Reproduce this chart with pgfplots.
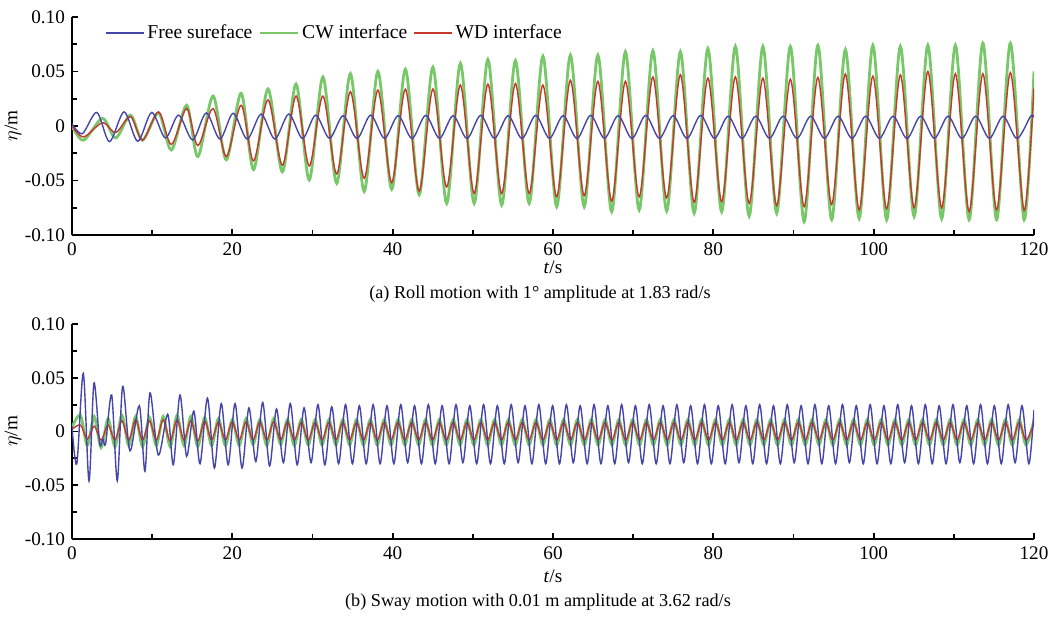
\documentclass[border=0pt]{standalone}
\usepackage{fontspec}
\setmainfont{Liberation Serif}
\usepackage{pgfplots}
\pgfplotsset{compat=1.18}
\usepackage{pgfplotstable}

\definecolor{fsblue}{RGB}{70,70,170}
\definecolor{cwgreen}{RGB}{120,200,105}
\definecolor{wdred}{RGB}{200,55,45}

% (a) roll: CW and WD interfaces share peak/trough times
\pgfplotstableread{
t g r
0.00 0.000 0.000
1.45 -0.013 -0.010
3.80 0.007 0.003
5.45 -0.011 -0.006
7.30 0.010 0.0086
8.80 -0.013 -0.013
10.80 0.012 0.013
12.40 -0.022 -0.017
14.30 0.019 0.016
15.70 -0.028 -0.018
17.60 0.0275 0.016
19.25 -0.031 -0.028
21.10 0.030 0.019
22.65 -0.040 -0.032
24.45 0.034 0.024
26.25 -0.042 -0.036
27.95 0.0385 0.0275
29.60 -0.0495 -0.0367
31.30 0.045 0.0275
33.02 -0.0526 -0.044
34.73 0.048 0.0315
36.45 -0.060 -0.048
38.16 0.050 0.033
39.88 -0.058 -0.052
41.59 0.052 0.0337
43.31 -0.063 -0.060
45.02 0.054 0.034
46.74 -0.071 -0.056
48.45 0.0575 0.0376
50.17 -0.071 -0.062
51.88 0.061 0.0385
53.60 -0.0725 -0.062
55.31 0.060 0.039
57.03 -0.071 -0.062
58.74 0.064 0.0376
60.46 -0.074 -0.065
62.17 0.065 0.042
63.89 -0.074 -0.064
65.60 0.065 0.041
67.32 -0.0786 -0.069
69.03 0.068 0.041
70.75 -0.077 -0.065
72.46 0.069 0.045
74.18 -0.078 -0.066
75.89 0.068 0.047
77.61 -0.080 -0.070
79.32 0.071 0.044
81.04 -0.0786 -0.0694
82.75 0.073 0.045
84.47 -0.0826 -0.071
86.18 0.073 0.044
87.90 -0.080 -0.073
89.61 0.073 0.043
91.33 -0.0878 -0.074
93.04 0.074 0.0446
94.76 -0.086 -0.072
96.47 0.070 0.0477
98.19 -0.0847 -0.077
99.90 0.074 0.0458
101.62 -0.086 -0.076
103.33 0.073 0.0468
105.05 -0.083 -0.075
106.76 0.074 0.050
108.48 -0.085 -0.075
110.19 0.074 0.048
111.91 -0.086 -0.0786
113.62 0.076 0.048
115.34 -0.086 -0.077
117.05 0.076 0.049
118.77 -0.086 -0.0775
120.00 0.050 0.0345
}\rollgr

\pgfplotstableread{
t b
0.00 0.002
1.30 -0.007
3.10 0.0125
4.68 -0.0144
6.50 0.013
8.20 -0.014
9.95 0.0125
11.65 -0.011
13.30 0.010
15.05 -0.0128
16.75 0.012
18.45 -0.012
20.11 0.0117
21.85 -0.012
23.60 0.011
25.30 -0.012
27.05 0.011
28.75 -0.0115
30.40 0.010
32.12 -0.0113
33.83 0.0095
35.55 -0.0115
37.26 0.0100
38.98 -0.0113
40.69 0.0095
42.41 -0.0115
44.12 0.0098
45.84 -0.0113
47.55 0.0095
49.27 -0.0115
50.98 0.0098
52.70 -0.0113
54.41 0.0095
56.13 -0.0115
57.84 0.0098
59.56 -0.0113
61.27 0.0095
62.99 -0.0115
64.70 0.0098
66.42 -0.0113
68.13 0.0095
69.85 -0.0115
71.56 0.0098
73.28 -0.0113
74.99 0.0095
76.71 -0.0115
78.42 0.0098
80.14 -0.0113
81.85 0.0090
83.57 -0.0115
85.28 0.0090
87.00 -0.0113
88.71 0.0090
90.43 -0.0115
92.14 0.0090
93.86 -0.0113
95.57 0.0090
97.29 -0.0115
99.00 0.0090
100.72 -0.0113
102.43 0.0090
104.15 -0.0115
105.86 0.0090
107.58 -0.0113
109.29 0.0090
111.01 -0.0115
112.72 0.0090
114.44 -0.0113
116.15 0.0090
117.87 -0.0115
119.58 0.0090
120.00 0.0080
}\rollb

% (b) sway
\pgfplotstableread{
t b
0.00 0.005
0.60 -0.030
1.41 0.054
2.12 -0.046
2.74 0.045
3.45 -0.011
3.85 -0.007
4.20 -0.011
4.95 0.034
5.65 -0.046
6.32 0.042
7.23 -0.018
8.40 0.024
9.10 -0.037
9.73 0.036
10.77 -0.022
11.94 0.016
12.64 -0.031
13.47 0.034
14.30 -0.023
15.20 0.019
15.97 -0.030
16.90 0.031
17.76 -0.034
18.62 0.026
19.48 -0.031
20.34 0.026
21.21 -0.034
22.07 0.022
22.93 -0.028
23.79 0.027
24.65 -0.032
25.51 0.021
26.37 -0.029
27.23 0.026
28.09 -0.031
28.95 0.022
29.82 -0.029
30.68 0.025
31.54 -0.031
32.40 0.023
33.26 -0.030
34.12 0.025
34.98 -0.030
35.84 0.024
36.70 -0.030
37.56 0.025
38.43 -0.030
39.29 0.024
40.15 -0.030
41.01 0.025
41.87 -0.029
42.73 0.024
43.59 -0.030
44.45 0.025
45.31 -0.030
46.17 0.024
47.04 -0.030
47.90 0.025
48.76 -0.029
49.62 0.024
50.48 -0.030
51.34 0.025
52.20 -0.030
53.06 0.024
53.92 -0.030
54.78 0.025
55.65 -0.029
56.51 0.024
57.37 -0.030
58.23 0.025
59.09 -0.030
59.95 0.024
60.81 -0.030
61.67 0.025
62.53 -0.029
63.39 0.024
64.26 -0.030
65.12 0.025
65.98 -0.030
66.84 0.024
67.70 -0.030
68.56 0.025
69.42 -0.029
70.28 0.024
71.14 -0.030
72.00 0.025
72.87 -0.030
73.73 0.024
74.59 -0.030
75.45 0.025
76.31 -0.029
77.17 0.024
78.03 -0.030
78.89 0.025
79.75 -0.030
80.61 0.024
81.48 -0.030
82.34 0.025
83.20 -0.029
84.06 0.024
84.92 -0.030
85.78 0.025
86.64 -0.030
87.50 0.024
88.36 -0.030
89.22 0.025
90.09 -0.029
90.95 0.024
91.81 -0.030
92.67 0.025
93.53 -0.030
94.39 0.024
95.25 -0.030
96.11 0.025
96.97 -0.029
97.83 0.024
98.70 -0.030
99.56 0.025
100.42 -0.030
101.28 0.024
102.14 -0.030
103.00 0.025
103.86 -0.029
104.72 0.024
105.58 -0.030
106.44 0.025
107.30 -0.030
108.17 0.024
109.03 -0.030
109.89 0.025
110.75 -0.029
111.61 0.024
112.47 -0.030
113.33 0.025
114.19 -0.030
115.05 0.024
115.92 -0.030
116.78 0.025
117.64 -0.029
118.50 0.024
119.36 -0.030
120.00 0.020
}\swayb

\pgfplotstableread{
t g r
0.00 0.004 0.002
1.05 0.015 0.006
1.91 -0.013 -0.007
2.77 0.014 0.005
3.63 -0.015 -0.008
4.50 0.012 0.006
5.36 -0.014 -0.008
6.22 0.015 0.010
7.08 -0.013 -0.008
7.94 0.014 0.011
8.80 -0.014 -0.008
9.66 0.013 0.010
10.52 -0.013 -0.008
11.38 0.014 0.011
12.24 -0.014 -0.009
13.11 0.015 0.011
13.97 -0.013 -0.008
14.83 0.014 0.010
15.69 -0.014 -0.009
16.55 0.013 0.010
17.41 -0.013 -0.008
18.27 0.012 0.009
19.13 -0.013 -0.008
19.99 0.011 0.009
20.86 -0.013 -0.008
21.72 0.012 0.009
22.58 -0.012 -0.008
23.44 0.011 0.009
24.30 -0.013 -0.008
25.16 0.012 0.009
26.02 -0.012 -0.008
26.88 0.011 0.009
27.74 -0.013 -0.008
28.60 0.011 0.0085
29.47 -0.0125 -0.008
30.33 0.011 0.0085
31.19 -0.0125 -0.008
32.05 0.011 0.0085
32.91 -0.0125 -0.008
33.77 0.011 0.0085
34.63 -0.0125 -0.008
35.49 0.011 0.0085
36.35 -0.0125 -0.008
37.21 0.011 0.0085
38.08 -0.0125 -0.008
38.94 0.011 0.0085
39.80 -0.0125 -0.008
40.66 0.011 0.0085
41.52 -0.0125 -0.008
42.38 0.011 0.0085
43.24 -0.0125 -0.008
44.10 0.011 0.0085
44.96 -0.0125 -0.008
45.82 0.011 0.0085
46.69 -0.0125 -0.008
47.55 0.011 0.0085
48.41 -0.0125 -0.008
49.27 0.011 0.0085
50.13 -0.0125 -0.008
50.99 0.011 0.0085
51.85 -0.0125 -0.008
52.71 0.011 0.0085
53.57 -0.0125 -0.008
54.43 0.011 0.0085
55.30 -0.0125 -0.008
56.16 0.011 0.0085
57.02 -0.0125 -0.008
57.88 0.011 0.0085
58.74 -0.0125 -0.008
59.60 0.011 0.0085
60.46 -0.0125 -0.008
61.32 0.011 0.0085
62.18 -0.0125 -0.008
63.04 0.011 0.0085
63.91 -0.0125 -0.008
64.77 0.011 0.0085
65.63 -0.0125 -0.008
66.49 0.011 0.0085
67.35 -0.0125 -0.008
68.21 0.011 0.0085
69.07 -0.0125 -0.008
69.93 0.011 0.0085
70.79 -0.0125 -0.008
71.65 0.011 0.0085
72.52 -0.0125 -0.008
73.38 0.011 0.0085
74.24 -0.0125 -0.008
75.10 0.011 0.0085
75.96 -0.0125 -0.008
76.82 0.011 0.0085
77.68 -0.0125 -0.008
78.54 0.011 0.0085
79.40 -0.0125 -0.008
80.26 0.011 0.0085
81.13 -0.0125 -0.008
81.99 0.011 0.0085
82.85 -0.0125 -0.008
83.71 0.011 0.0085
84.57 -0.0125 -0.008
85.43 0.011 0.0085
86.29 -0.0125 -0.008
87.15 0.011 0.0085
88.01 -0.0125 -0.008
88.87 0.011 0.0085
89.74 -0.0125 -0.008
90.60 0.011 0.0085
91.46 -0.0125 -0.008
92.32 0.011 0.0085
93.18 -0.0125 -0.008
94.04 0.011 0.0085
94.90 -0.0125 -0.008
95.76 0.011 0.0085
96.62 -0.0125 -0.008
97.48 0.011 0.0085
98.35 -0.0125 -0.008
99.21 0.011 0.0085
100.07 -0.0125 -0.008
100.93 0.011 0.0085
101.79 -0.0125 -0.008
102.65 0.011 0.0085
103.51 -0.0125 -0.008
104.37 0.011 0.0085
105.23 -0.0125 -0.008
106.09 0.011 0.0085
106.96 -0.0125 -0.008
107.82 0.011 0.0085
108.68 -0.0125 -0.008
109.54 0.011 0.0085
110.40 -0.0125 -0.008
111.26 0.011 0.0085
112.12 -0.0125 -0.008
112.98 0.011 0.0085
113.84 -0.0125 -0.008
114.70 0.011 0.0085
115.57 -0.0125 -0.008
116.43 0.011 0.0085
117.29 -0.0125 -0.008
118.15 0.011 0.0085
119.01 -0.0125 -0.008
120.00 0.0105 0.008
}\swaygr

\pgfplotsset{
  etaaxis/.style={
    scale only axis, width=481pt,
    xmin=0, xmax=120, ymin=-0.1, ymax=0.1,
    axis lines=left, axis line style={-, line width=0.9pt},
    tick align=inside, major tick length=3pt, minor tick length=2.5pt,
    every tick/.style={black, line width=0.9pt},
    xtick={0,20,...,120}, minor x tick num=1,
    ytick={-0.1,-0.05,0,0.05,0.1}, minor y tick num=1,
    yticklabels={-0.10,-0.05,0,0.05,0.10},
    /pgf/number format/assume math mode=true,
    tick label style={font=\fontsize{9.6}{10.5}\selectfont},
    xticklabel style={yshift=-0.5pt},
    label style={font=\fontsize{9.6}{10.5}\selectfont},
    xlabel={\textit{t}/s}, ylabel={$\eta$/m},
    ylabel style={at={(axis description cs:-0.0613,0.5)}, anchor=center},
  },
  fsline/.style={fsblue, line width=0.7pt, smooth},
  cwline/.style={cwgreen, line width=1.4pt, smooth},
  wdline/.style={wdred, line width=0.7pt, smooth},
}

\begin{document}
\begin{tikzpicture}
\useasboundingbox (-36pt,-191pt) rectangle (489.5pt,117.5pt);

\begin{axis}[etaaxis, height=109pt, at={(0,0)},
  xlabel style={at={(axis description cs:0.5,0)}, yshift=-16pt, anchor=center},
  legend style={at={(axis description cs:0.036,1)}, anchor=west,
    xshift=-4pt, yshift=-8pt,
    draw=none, fill=none, font=\fontsize{9.8}{11}\selectfont,
    nodes={inner sep=1.5pt}},
  legend columns=3,
  legend cell align=left,
  /tikz/every even column/.append style={column sep=1.5pt},
  legend image code/.code={\draw[#1] (0pt,0pt) -- (19pt,0pt);}]
\addlegendimage{fsblue, line width=0.7pt}
\addlegendentry{Free sureface}
\addplot[cwline] table[x=t, y=g] {\rollgr};
\addlegendentry{CW interface}
\addplot[wdline] table[x=t, y=r] {\rollgr};
\addlegendentry{WD interface}
\addplot[fsline, forget plot] table[x=t, y=b] {\rollb};
\end{axis}
\node[font=\fontsize{9.1}{10}\selectfont] at (234pt,-29.5pt)
  {(a) Roll motion with 1° amplitude at 1.83 rad/s};

\begin{axis}[etaaxis, height=107.5pt, at={(0,-152pt)},
  xlabel style={at={(axis description cs:0.5,0)}, yshift=-18.5pt, anchor=center}]
\addplot[cwline] table[x=t, y=g] {\swaygr};
\addplot[wdline] table[x=t, y=r] {\swaygr};
\addplot[fsline] table[x=t, y=b] {\swayb};
\end{axis}
\node[font=\fontsize{9.1}{10}\selectfont] at (233pt,-183.5pt)
  {(b) Sway motion with 0.01 m amplitude at 3.62 rad/s};
\end{tikzpicture}
\end{document}
